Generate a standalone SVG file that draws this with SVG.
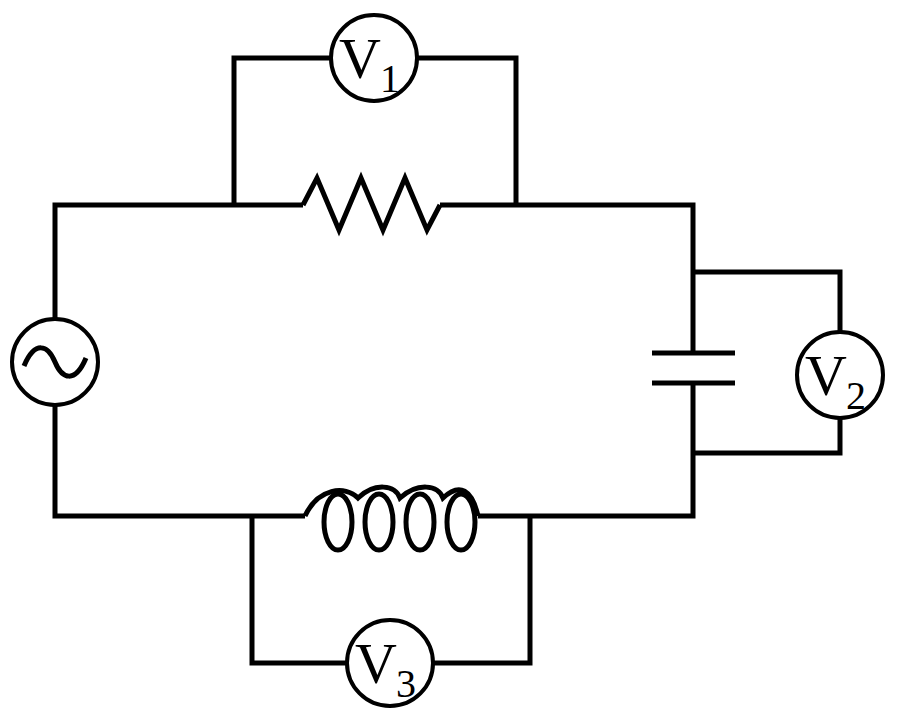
<svg xmlns="http://www.w3.org/2000/svg" width="900" height="720" viewBox="0 0 900 720">
<style>
.w{fill:none;stroke:#000;stroke-width:5;stroke-linejoin:miter}
.m{fill:#fff;stroke:#000;stroke-width:4}
.t{font-family:"Liberation Serif",serif;font-size:58px;fill:#000}
.s{font-family:"Liberation Serif",serif;font-size:40px;fill:#000}
</style>
<g id="connectors">
<polyline class="w" points="303,205 55,205 55,319"/>
<polyline class="w" points="55,405 55,516 305,516"/>
<polyline class="w" points="440,205 693,205 693,353"/>
<polyline class="w" points="693,383 693,516 478,516"/>
<polyline class="w" points="234,205 234,58 331,58"/>
<polyline class="w" points="417,58 516,58 516,205"/>
<polyline class="w" points="693,272 840,272 840,332"/>
<polyline class="w" points="840,418 840,453 693,453"/>
<polyline class="w" points="252,516 252,663 347,663"/>
<polyline class="w" points="433,663 530,663 530,516"/>
</g>
<g id="resistor"><polyline class="w" points="303,205 317,178 339,230 361,178 383,230 405,178 427,230 440,205"/></g>
<g id="inductor"><path class="w" d="M305,516 C318,488 345,485 358,498 C375,482 395,485 400,498 C418,482 438,485 443,498 C460,482 472,490 478,516"/>
<ellipse class="w" cx="338" cy="522" rx="14" ry="28"/><ellipse class="w" cx="379" cy="522" rx="14" ry="28"/><ellipse class="w" cx="420" cy="522" rx="14" ry="28"/><ellipse class="w" cx="461" cy="522" rx="14" ry="28"/></g>
<g id="capacitor"><line class="w" x1="652" y1="353" x2="735" y2="353"/><line class="w" x1="652" y1="383" x2="735" y2="383"/></g>
<g id="source"><circle class="m" cx="55" cy="362" r="43"/><path class="w" d="M24,366 C35,340 48,345 55,362 C62,379 75,384 86,358"/></g>
<g id="V1"><circle class="m" cx="374" cy="58" r="43"/><text class="t" x="339" y="78">V</text><text class="s" x="380" y="92">1</text></g>
<g id="V2"><circle class="m" cx="840" cy="375" r="43"/><text class="t" x="805" y="395">V</text><text class="s" x="846" y="409">2</text></g>
<g id="V3"><circle class="m" cx="390" cy="663" r="43"/><text class="t" x="355" y="683">V</text><text class="s" x="396" y="697">3</text></g>
</svg>
